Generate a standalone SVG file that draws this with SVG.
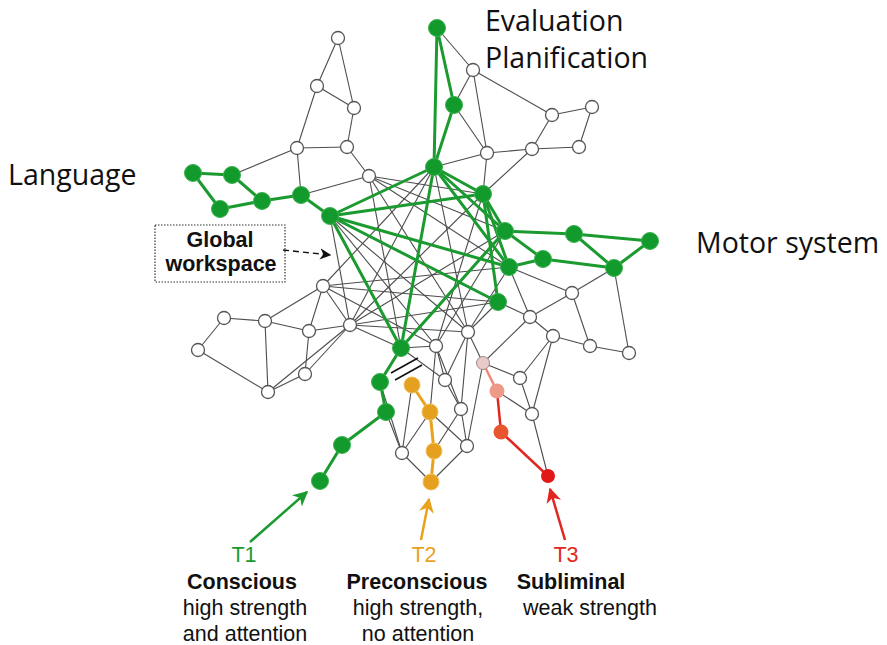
<svg xmlns="http://www.w3.org/2000/svg" width="887" height="645" viewBox="0 0 887 645">
<style>
.e{stroke:#4d4d4d;stroke-width:1.1;fill:none}
.g{stroke:#1b9a30;stroke-width:3;fill:none;stroke-linecap:round}
.o{stroke:#e8a21e;stroke-width:3;fill:none}
.rp{stroke:#ee8a78;stroke-width:2.5;fill:none}
.rr{stroke:#e0261e;stroke-width:2.5;fill:none}
.wn{fill:#fff;stroke:#555;stroke-width:1.3}
.gn{fill:#129a2c;stroke:#3cb050;stroke-width:1}
.on{fill:#e6a020;stroke:#f0c060;stroke-width:1}
.lbl{font-family:"Open Sans","Noto Sans",sans-serif;font-size:28.5px;fill:#111}
.b{font-family:"Liberation Sans",Arial,sans-serif;font-weight:bold;font-size:21.5px;fill:#111;text-anchor:middle}
.t{font-family:"Liberation Sans",Arial,sans-serif;font-size:21.5px;fill:#111;text-anchor:middle}
</style>
<defs>
<marker id="ag" viewBox="0 0 10 10" refX="9" refY="5" markerWidth="6" markerHeight="6" orient="auto" markerUnits="strokeWidth"><path d="M0,0 L10,5 L0,10 L3,5 z" fill="#1b9a30"/></marker>
<marker id="ao" viewBox="0 0 10 10" refX="9" refY="5" markerWidth="6" markerHeight="6" orient="auto" markerUnits="strokeWidth"><path d="M0,0 L10,5 L0,10 L3,5 z" fill="#e8a21e"/></marker>
<marker id="ar" viewBox="0 0 10 10" refX="9" refY="5" markerWidth="6" markerHeight="6" orient="auto" markerUnits="strokeWidth"><path d="M0,0 L10,5 L0,10 L3,5 z" fill="#e0261e"/></marker>
<marker id="ak" viewBox="0 0 10 10" refX="9" refY="5" markerWidth="8" markerHeight="8" orient="auto" markerUnits="strokeWidth"><path d="M0,0 L10,5 L0,10 L3,5 z" fill="#111"/></marker>
</defs>
<rect width="887" height="645" fill="#fff"/>

<g id="connectors">
<g class="e">
<line x1="338" y1="38" x2="317" y2="86"/><line x1="338" y1="38" x2="354" y2="108"/><line x1="317" y1="86" x2="354" y2="108"/><line x1="317" y1="86" x2="297" y2="148"/><line x1="354" y1="108" x2="347" y2="147"/><line x1="297" y1="148" x2="347" y2="147"/><line x1="297" y1="148" x2="232" y2="175"/><line x1="297" y1="148" x2="301" y2="195"/><line x1="347" y1="147" x2="369" y2="176"/><line x1="369" y1="176" x2="301" y2="195"/>
<line x1="437" y1="28" x2="473" y2="70"/><line x1="473" y1="70" x2="454" y2="105"/><line x1="473" y1="70" x2="487" y2="153"/><line x1="473" y1="70" x2="552" y2="115"/><line x1="454" y1="105" x2="487" y2="153"/><line x1="487" y1="153" x2="532" y2="149"/><line x1="532" y1="149" x2="552" y2="115"/><line x1="552" y1="115" x2="592" y2="107"/><line x1="592" y1="107" x2="579" y2="147"/><line x1="532" y1="149" x2="579" y2="147"/><line x1="487" y1="153" x2="483" y2="194"/><line x1="434" y1="167" x2="487" y2="153"/><line x1="532" y1="149" x2="483" y2="194"/>
<line x1="369" y1="176" x2="483" y2="194"/><line x1="369" y1="176" x2="505" y2="231"/><line x1="369" y1="176" x2="509" y2="267"/><line x1="369" y1="176" x2="401" y2="348"/><line x1="369" y1="176" x2="468" y2="332"/>
<line x1="330" y1="216" x2="350" y2="325"/><line x1="330" y1="216" x2="468" y2="332"/><line x1="330" y1="216" x2="436" y2="346"/>
<line x1="323" y1="286" x2="434" y2="167"/><line x1="323" y1="286" x2="509" y2="267"/><line x1="323" y1="286" x2="498" y2="302"/><line x1="323" y1="286" x2="436" y2="346"/>
<line x1="350" y1="325" x2="434" y2="167"/><line x1="350" y1="325" x2="483" y2="194"/><line x1="350" y1="325" x2="505" y2="231"/><line x1="350" y1="325" x2="498" y2="302"/><line x1="350" y1="325" x2="401" y2="348"/><line x1="350" y1="325" x2="468" y2="332"/>
<line x1="436" y1="346" x2="483" y2="194"/><line x1="468" y1="332" x2="434" y2="167"/><line x1="468" y1="332" x2="509" y2="267"/><line x1="468" y1="332" x2="498" y2="302"/><line x1="436" y1="346" x2="505" y2="231"/>
<line x1="509" y1="267" x2="572" y2="293"/><line x1="509" y1="267" x2="530" y2="317"/><line x1="614" y1="268" x2="572" y2="293"/><line x1="614" y1="268" x2="629" y2="353"/><line x1="572" y1="293" x2="530" y2="317"/><line x1="572" y1="293" x2="590" y2="346"/><line x1="530" y1="317" x2="553" y2="336"/><line x1="553" y1="336" x2="590" y2="346"/><line x1="590" y1="346" x2="629" y2="353"/><line x1="498" y1="302" x2="530" y2="317"/><line x1="530" y1="317" x2="483" y2="363"/><line x1="553" y1="336" x2="520" y2="378"/><line x1="553" y1="336" x2="532" y2="414"/><line x1="483" y1="363" x2="520" y2="378"/><line x1="497" y1="391" x2="532" y2="414"/><line x1="520" y1="378" x2="532" y2="414"/><line x1="532" y1="414" x2="548" y2="476"/><line x1="468" y1="332" x2="483" y2="363"/>
<line x1="323" y1="286" x2="265" y2="321"/><line x1="323" y1="286" x2="309" y2="331"/><line x1="323" y1="286" x2="350" y2="325"/><line x1="224" y1="318" x2="265" y2="321"/><line x1="224" y1="318" x2="198" y2="350"/><line x1="265" y1="321" x2="309" y2="331"/><line x1="265" y1="321" x2="268" y2="392"/><line x1="309" y1="331" x2="350" y2="325"/><line x1="309" y1="331" x2="305" y2="374"/><line x1="198" y1="350" x2="268" y2="392"/><line x1="305" y1="374" x2="268" y2="392"/><line x1="268" y1="392" x2="350" y2="325"/><line x1="305" y1="374" x2="350" y2="325"/>
<line x1="401" y1="348" x2="436" y2="346"/><line x1="401" y1="348" x2="445" y2="380"/><line x1="436" y1="346" x2="445" y2="380"/><line x1="436" y1="346" x2="430" y2="412"/><line x1="436" y1="346" x2="461" y2="409"/><line x1="468" y1="332" x2="445" y2="380"/><line x1="468" y1="332" x2="461" y2="409"/><line x1="483" y1="363" x2="467" y2="446"/><line x1="445" y1="380" x2="461" y2="409"/><line x1="461" y1="409" x2="434" y2="451"/><line x1="461" y1="409" x2="467" y2="446"/><line x1="430" y1="412" x2="467" y2="446"/><line x1="467" y1="446" x2="431" y2="482"/><line x1="402" y1="453" x2="431" y2="482"/><line x1="380" y1="382" x2="402" y2="453"/><line x1="386" y1="412" x2="402" y2="453"/><line x1="412" y1="385" x2="402" y2="453"/><line x1="402" y1="453" x2="430" y2="412"/>
</g>
<g class="g">
<line x1="193" y1="173" x2="232" y2="175"/><line x1="193" y1="173" x2="220" y2="209"/><line x1="220" y1="209" x2="262" y2="201"/><line x1="232" y1="175" x2="262" y2="201"/><line x1="262" y1="201" x2="301" y2="195"/><line x1="301" y1="195" x2="330" y2="216"/>
<line x1="437" y1="28" x2="454" y2="105"/><line x1="437" y1="28" x2="434" y2="167"/><line x1="454" y1="105" x2="434" y2="167"/>
<line x1="330" y1="216" x2="434" y2="167"/><line x1="330" y1="216" x2="483" y2="194"/><line x1="330" y1="216" x2="509" y2="267"/><line x1="330" y1="216" x2="498" y2="302"/><line x1="330" y1="216" x2="401" y2="348"/>
<line x1="434" y1="167" x2="483" y2="194"/><line x1="434" y1="167" x2="401" y2="348"/><line x1="434" y1="167" x2="505" y2="231"/><line x1="434" y1="167" x2="509" y2="267"/>
<line x1="483" y1="194" x2="505" y2="231"/><line x1="483" y1="194" x2="509" y2="267"/><line x1="483" y1="194" x2="498" y2="302"/><line x1="401" y1="348" x2="505" y2="231"/>
<line x1="505" y1="231" x2="574" y2="234"/><line x1="505" y1="231" x2="543" y2="259"/><line x1="543" y1="259" x2="509" y2="267"/><line x1="543" y1="259" x2="614" y2="268"/><line x1="574" y1="234" x2="614" y2="268"/><line x1="574" y1="234" x2="650" y2="241"/><line x1="650" y1="241" x2="614" y2="268"/>
<line x1="401" y1="348" x2="380" y2="382"/><line x1="380" y1="382" x2="386" y2="412"/><line x1="386" y1="412" x2="342" y2="445"/><line x1="342" y1="445" x2="320" y2="481"/>
</g>
<g class="o"><line x1="412" y1="385" x2="430" y2="412"/><line x1="430" y1="412" x2="434" y2="451"/><line x1="434" y1="451" x2="431" y2="482"/></g>
<line class="rp" x1="483" y1="363" x2="497" y2="391"/>
<line class="rr" x1="497" y1="391" x2="501" y2="432"/>
<line class="rr" x1="501" y1="432" x2="548" y2="476"/>
<g stroke="#111" stroke-width="1.6"><line x1="391" y1="373" x2="418" y2="358"/><line x1="395" y1="380" x2="422" y2="365"/></g>
<line x1="283" y1="250" x2="330" y2="255" stroke="#111" stroke-width="1.4" stroke-dasharray="6,4" marker-end="url(#ak)"/>
<line x1="250" y1="542" x2="307" y2="492" stroke="#1b9a30" stroke-width="2.5" marker-end="url(#ag)"/>
<line x1="421" y1="540" x2="429" y2="499" stroke="#e8a21e" stroke-width="2.5" marker-end="url(#ao)"/>
<line x1="565" y1="540" x2="550" y2="489" stroke="#e0261e" stroke-width="2.5" marker-end="url(#ar)"/>
</g>

<g id="nodes">
<g id="W1"><circle class="wn" cx="338" cy="38" r="6.5"/></g>
<g id="W2"><circle class="wn" cx="317" cy="86" r="6.5"/></g>
<g id="W3"><circle class="wn" cx="354" cy="108" r="6.5"/></g>
<g id="W4"><circle class="wn" cx="297" cy="148" r="6.5"/></g>
<g id="W5"><circle class="wn" cx="347" cy="147" r="6.5"/></g>
<g id="W6"><circle class="wn" cx="369" cy="176" r="6.5"/></g>
<g id="L1"><circle class="gn" cx="193" cy="173" r="8.5"/></g>
<g id="L2"><circle class="gn" cx="232" cy="175" r="8.5"/></g>
<g id="L3"><circle class="gn" cx="220" cy="209" r="8.5"/></g>
<g id="L4"><circle class="gn" cx="262" cy="201" r="8.5"/></g>
<g id="L5"><circle class="gn" cx="301" cy="195" r="8.5"/></g>
<g id="H1"><circle class="gn" cx="330" cy="216" r="8.5"/></g>
<g id="E1"><circle class="gn" cx="437" cy="28" r="8.5"/></g>
<g id="W7"><circle class="wn" cx="473" cy="70" r="6.5"/></g>
<g id="E2"><circle class="gn" cx="454" cy="105" r="8.5"/></g>
<g id="H2"><circle class="gn" cx="434" cy="167" r="8.5"/></g>
<g id="W8"><circle class="wn" cx="552" cy="115" r="6.5"/></g>
<g id="W9"><circle class="wn" cx="592" cy="107" r="6.5"/></g>
<g id="W10"><circle class="wn" cx="487" cy="153" r="6.5"/></g>
<g id="W11"><circle class="wn" cx="532" cy="149" r="6.5"/></g>
<g id="W12"><circle class="wn" cx="579" cy="147" r="6.5"/></g>
<g id="H3"><circle class="gn" cx="483" cy="194" r="8.5"/></g>
<g id="M1"><circle class="gn" cx="505" cy="231" r="8.5"/></g>
<g id="M4"><circle class="gn" cx="574" cy="234" r="8.5"/></g>
<g id="M5"><circle class="gn" cx="650" cy="241" r="8.5"/></g>
<g id="M6"><circle class="gn" cx="543" cy="259" r="8.5"/></g>
<g id="M2"><circle class="gn" cx="509" cy="267" r="8.5"/></g>
<g id="M7"><circle class="gn" cx="614" cy="268" r="8.5"/></g>
<g id="M3"><circle class="gn" cx="498" cy="302" r="8.5"/></g>
<g id="W17"><circle class="wn" cx="572" cy="293" r="6.5"/></g>
<g id="W18"><circle class="wn" cx="530" cy="317" r="6.5"/></g>
<g id="W19"><circle class="wn" cx="553" cy="336" r="6.5"/></g>
<g id="W20"><circle class="wn" cx="590" cy="346" r="6.5"/></g>
<g id="W21"><circle class="wn" cx="629" cy="353" r="6.5"/></g>
<g id="W13"><circle class="wn" cx="323" cy="286" r="6.5"/></g>
<g id="W28"><circle class="wn" cx="224" cy="318" r="6.5"/></g>
<g id="W29"><circle class="wn" cx="265" cy="321" r="6.5"/></g>
<g id="W30"><circle class="wn" cx="309" cy="331" r="6.5"/></g>
<g id="W14"><circle class="wn" cx="350" cy="325" r="6.5"/></g>
<g id="W31"><circle class="wn" cx="198" cy="350" r="6.5"/></g>
<g id="W32"><circle class="wn" cx="305" cy="374" r="6.5"/></g>
<g id="W33"><circle class="wn" cx="268" cy="392" r="6.5"/></g>
<g id="T0"><circle class="gn" cx="401" cy="348" r="8.5"/></g>
<g id="W16"><circle class="wn" cx="436" cy="346" r="6.5"/></g>
<g id="W15"><circle class="wn" cx="468" cy="332" r="6.5"/></g>
<g id="P1"><circle cx="483" cy="363" r="6.5" fill="#e9c9c9" stroke="#a08888" stroke-width="1"/></g>
<g id="W22"><circle class="wn" cx="520" cy="378" r="6.5"/></g>
<g id="P2"><circle cx="497" cy="391" r="7.5" fill="#ee9a88"/></g>
<g id="W25"><circle class="wn" cx="532" cy="414" r="6.5"/></g>
<g id="R1"><circle cx="501" cy="432" r="7.5" fill="#e8552e"/></g>
<g id="R2"><circle cx="548" cy="476" r="7" fill="#e01818"/></g>
<g id="W23"><circle class="wn" cx="445" cy="380" r="6.5"/></g>
<g id="W24"><circle class="wn" cx="461" cy="409" r="6.5"/></g>
<g id="W26"><circle class="wn" cx="467" cy="446" r="6.5"/></g>
<g id="W27"><circle class="wn" cx="402" cy="453" r="6.5"/></g>
<g id="O1"><circle class="on" cx="412" cy="385" r="8"/></g>
<g id="O2"><circle class="on" cx="430" cy="412" r="8"/></g>
<g id="O3"><circle class="on" cx="434" cy="451" r="8"/></g>
<g id="O4"><circle class="on" cx="431" cy="482" r="8"/></g>
<g id="T1a"><circle class="gn" cx="380" cy="382" r="8.5"/></g>
<g id="T1b"><circle class="gn" cx="386" cy="412" r="8.5"/></g>
<g id="T1c"><circle class="gn" cx="342" cy="445" r="8.5"/></g>
<g id="T1d"><circle class="gn" cx="320" cy="481" r="8.5"/></g>
</g>

<g id="labels">
<text class="lbl" x="485" y="31">Evaluation</text>
<text class="lbl" x="485" y="68">Planification</text>
<text class="lbl" x="8" y="185">Language</text>
<text class="lbl" x="696" y="253">Motor system</text>
</g>
<g id="global-workspace">
<rect x="155" y="225" width="130" height="57" fill="none" stroke="#333" stroke-width="1.2" stroke-dasharray="1.5,1.5"/>
<text class="b" x="220" y="247">Global</text>
<text class="b" x="221" y="271">workspace</text>
</g>
<g id="T1">
<text class="t" x="244" y="562" style="fill:#1b9a30">T1</text>
<text class="b" x="242" y="589">Conscious</text>
<text class="t" x="245" y="615">high strength</text>
<text class="t" x="245" y="641">and attention</text>
</g>
<g id="T2">
<text class="t" x="424" y="562" style="fill:#e8a21e">T2</text>
<text class="b" x="417" y="589">Preconscious</text>
<text class="t" x="418" y="615">high strength,</text>
<text class="t" x="418" y="641">no attention</text>
</g>
<g id="T3">
<text class="t" x="566" y="562" style="fill:#e0261e">T3</text>
<text class="b" x="571" y="589">Subliminal</text>
<text class="t" x="590" y="615">weak strength</text>
</g>
</svg>
